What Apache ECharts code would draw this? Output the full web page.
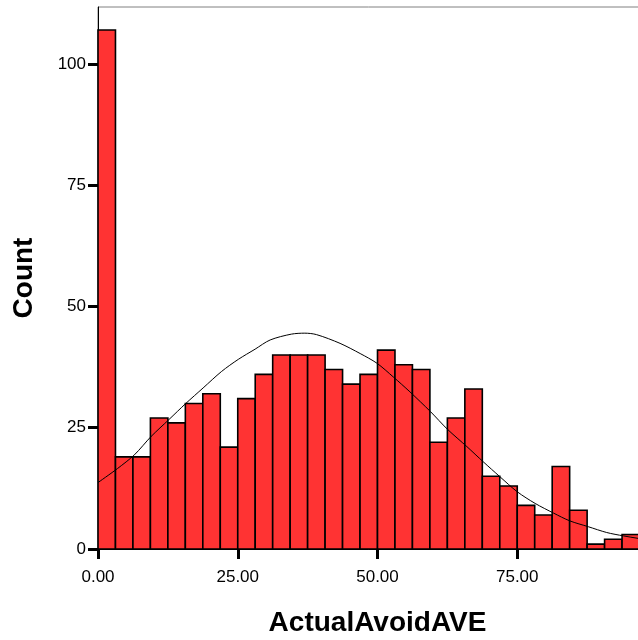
<!DOCTYPE html>
<html><head><meta charset="utf-8">
<script src="https://cdn.jsdelivr.net/npm/echarts@6/dist/echarts.min.js"></script>
<style>html,body{margin:0;padding:0;background:#fff}#c{width:638px;height:640px}</style>
</head><body><div id="c"></div>
<script>
const binWidth = 3.125;
const counts = [107,19,19,27,26,30,32,21,31,36,40,40,40,37,34,36,41,38,37,22,27,33,15,13,9,7,17,8,1,2,3];
const curveX = [0,3.5,6.5,9.5,12.7,15.7,18.8,22.1,25.1,28.1,30.8,34.6,37,39.1,43.3,46.9,49.9,52.8,55.8,59.5,62.5,66,68.9,71.9,75,78.2,81.5,84.4,87.7,91,94,96.6,100];
const curveY = [13.7,16.6,19.4,23.2,26.7,30.0,33.2,36.6,39.1,41.2,43.1,44.3,44.5,44.2,42.4,40.3,38.3,35.5,32.4,28.3,24.7,21.1,18.0,14.9,11.8,9.4,7.4,5.8,4.6,3.4,2.7,2.2,1.6];
const xTicks = [0,25,50,75];
const yTicks = [0,25,50,75,100];

const chart = echarts.init(document.getElementById('c'), null, {renderer:'canvas'});
const font = 'Liberation Sans, Arial, sans-serif';
chart.setOption({
  animation:false,
  grid:{left:98, right:-19, top:7, bottom:91, show:true, borderColor:'#808080', borderWidth:1,
        containLabel:false, outerBoundsMode:'none'},
  xAxis:{type:'value', min:0, max:100,
    name:'ActualAvoidAVE', nameLocation:'middle', nameGap:60,
    nameTextStyle:{fontFamily:font, fontSize:28, fontWeight:'bold', color:'#000'},
    axisLine:{show:true, onZero:false, lineStyle:{color:'#000', width:1}},
    axisTick:{show:true, length:10, lineStyle:{color:'#000', width:3}, customValues:xTicks},
    axisLabel:{fontFamily:font, fontSize:17, color:'#000', margin:20, customValues:xTicks, formatter:v=>v.toFixed(2)},
    splitLine:{show:false}},
  yAxis:{type:'value', min:0, max:111.75,
    name:'Count', nameLocation:'middle', nameGap:60,
    nameTextStyle:{fontFamily:font, fontSize:28, fontWeight:'bold', color:'#000'},
    axisLine:{show:true, lineStyle:{color:'#000', width:1}},
    axisTick:{show:true, length:10, lineStyle:{color:'#000', width:3}, customValues:yTicks},
    axisLabel:{fontFamily:font, fontSize:17, color:'#000', margin:12, customValues:yTicks},
    splitLine:{show:false}},
  series:[
    {type:'custom',
     data: counts.map((c,i)=>[i*binWidth, c, (i+1)*binWidth]),
     encode:{x:[0,2], y:1},
     renderItem:function(params, api){
       const p0 = api.coord([api.value(0), api.value(1)]);
       const p1 = api.coord([api.value(2), 0]);
       return {type:'rect', shape:{x:p0[0], y:p0[1], width:p1[0]-p0[0], height:p1[1]-p0[1]},
         style:{fill:'#ff3333', stroke:'#000', lineWidth:1.6}};
     }, z:2},
    {type:'line', data: curveX.map((x,i)=>[x, curveY[i]]), smooth:0.3, showSymbol:false,
     lineStyle:{color:'#000', width:1}, z:3}
  ]
});
</script></body></html>
